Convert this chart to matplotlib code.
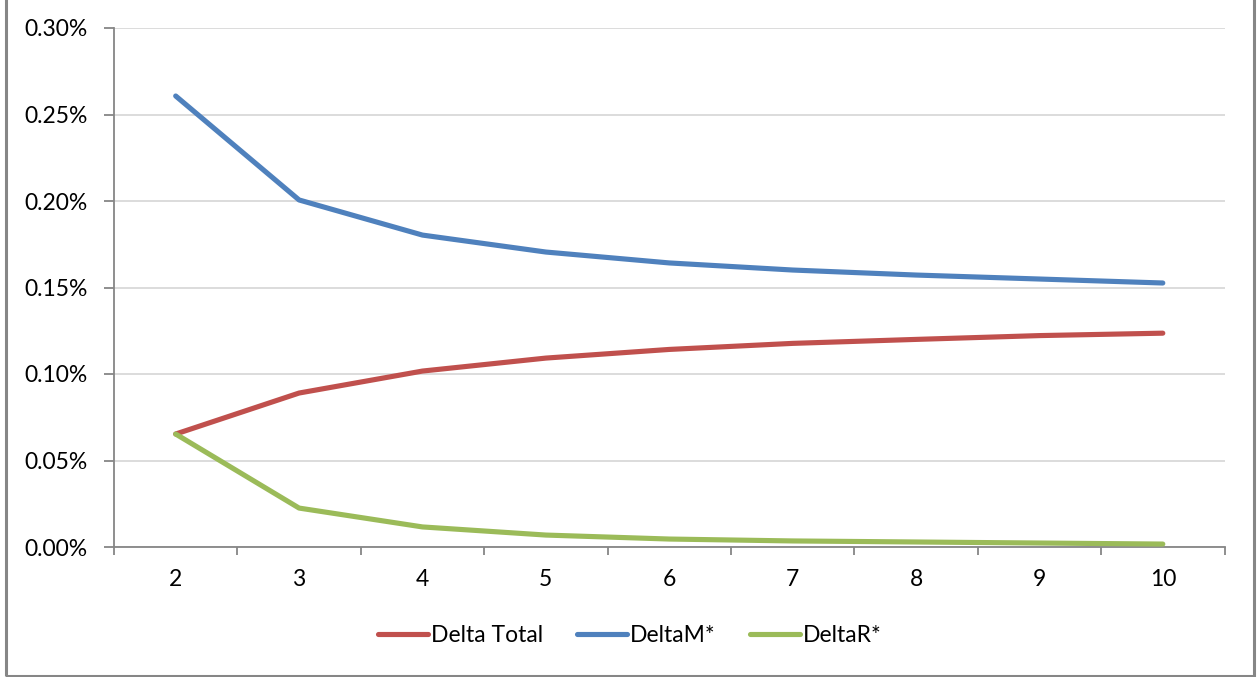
import numpy as np
import matplotlib.pyplot as plt
from matplotlib.patches import Rectangle
from matplotlib.ticker import FuncFormatter, FixedLocator

plt.rcParams['font.family'] = ['Lato', 'DejaVu Sans']

categories = ["2", "3", "4", "5", "6", "7", "8", "9", "10"]
delta_total = [0.0653, 0.0890, 0.1017, 0.1092, 0.1142, 0.1177, 0.1200, 0.1222, 0.1236]
delta_m = [0.2607, 0.2006, 0.1803, 0.1705, 0.1642, 0.1601, 0.1572, 0.1549, 0.1526]
delta_r = [0.0653, 0.0225, 0.0116, 0.0069, 0.0046, 0.0035, 0.0029, 0.0023, 0.0017]
y_ticks = [0.00, 0.05, 0.10, 0.15, 0.20, 0.25, 0.30]

axis_grey = "#868686"
fs = 16.5

fig = plt.figure(figsize=(12.59, 6.77), dpi=100)
ax = fig.add_axes([114 / 1259, 1 - 547 / 677, (1224.5 - 114) / 1259, (547 - 28) / 677])

x = np.arange(len(categories))
ax.plot(x, delta_total, color="#C0504D", lw=3.7, solid_capstyle="round", label="Delta Total", zorder=3)
ax.plot(x, delta_m, color="#4F81BD", lw=3.7, solid_capstyle="round", label="DeltaM*", zorder=3)
ax.plot(x, delta_r, color="#9BBB59", lw=3.7, solid_capstyle="round", label="DeltaR*", zorder=3)

ax.set_xlim(-0.5, len(categories) - 0.5)
ax.set_ylim(0, 0.30)

# category labels at centres, tick marks between categories
ax.set_xticks(x)
ax.set_xticklabels(categories)
ax.xaxis.set_minor_locator(FixedLocator(np.arange(-0.5, len(categories), 1.0)))
ax.tick_params(axis="x", which="major", length=0, pad=16, labelsize=fs)
ax.tick_params(axis="x", which="minor", length=6, width=1.3, color=axis_grey, direction="out")

ax.set_yticks(y_ticks)
ax.yaxis.set_major_formatter(FuncFormatter(lambda v, _: f"{v:.2f}%"))
ax.tick_params(axis="y", length=7, width=1.3, color=axis_grey, pad=12, labelsize=fs)

ax.grid(axis="y", color="#d9d9d9", lw=1.3, zorder=0)
ax.set_axisbelow(True)

for side in ("top", "right"):
    ax.spines[side].set_visible(False)
for side in ("left", "bottom"):
    ax.spines[side].set_color(axis_grey)
    ax.spines[side].set_linewidth(1.3)

ax.legend(loc="center", bbox_to_anchor=(0.5, 1 - 636 / 677), bbox_transform=fig.transFigure,
          ncol=3, frameon=False, fontsize=fs, handlelength=2.2, handletextpad=0.1,
          columnspacing=1.5)

# chart area outline
fig.patches.append(Rectangle((6 / 1259, 1 / 677), (1254 - 6) / 1259, 1.2, transform=fig.transFigure,
                             fill=False, edgecolor=axis_grey, lw=2.2))

fig.savefig("out.png", dpi=100, facecolor="white")
